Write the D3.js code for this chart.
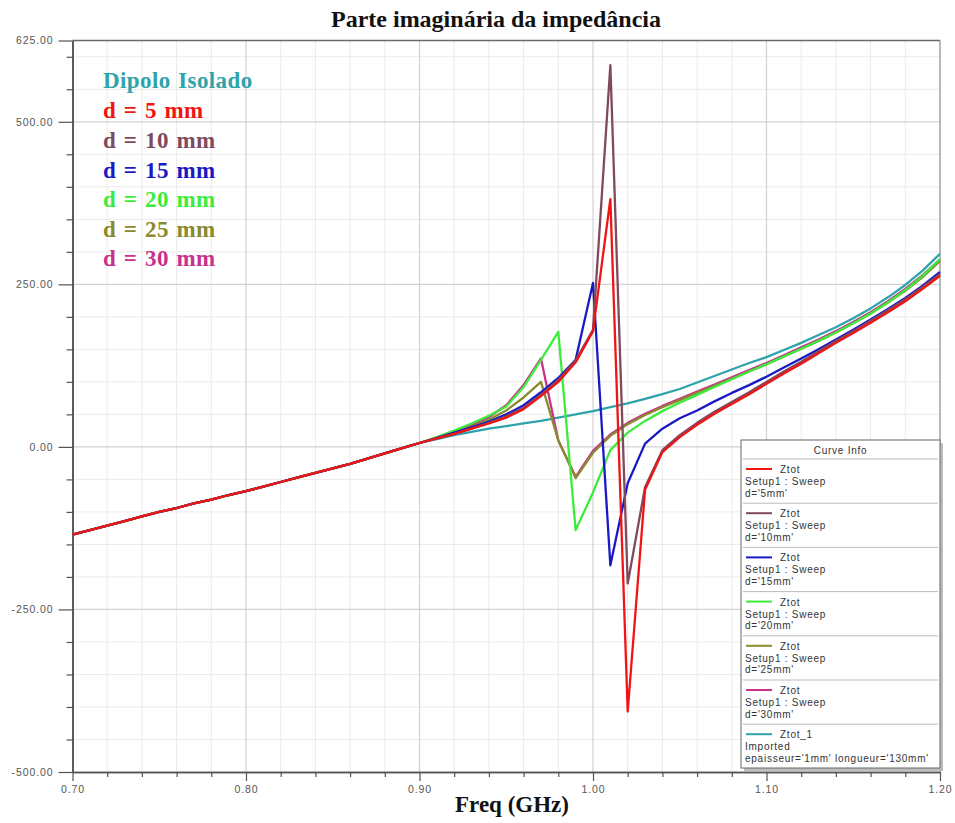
<!DOCTYPE html>
<html><head><meta charset="utf-8">
<script src="https://cdn.jsdelivr.net/npm/d3@7"></script>
<style>body{margin:0;background:#fff} svg{display:block}</style>
</head><body><svg id="c" width="955" height="823"></svg>
<script>
// ---- data ----
const freq = [0.70,0.71,0.72,0.73,0.74,0.75,0.76,0.77,0.78,0.79,0.80,0.81,0.82,0.83,0.84,0.85,0.86,0.87,0.88,0.89,
  0.90,0.91,0.92,0.93,0.94,0.95,0.96,0.97,0.98,0.99,1.00,1.01,1.02,1.03,1.04,1.05,1.06,1.07,1.08,1.09,1.10,
  1.11,1.12,1.13,1.14,1.15,1.16,1.17,1.18,1.19,1.20];
const lowBand = [-135,-128,-121,-114,-107,-100,-94,-87,-81,-74,-68,-61,-54,-47,-40,-33,-26,-18,-10,-2];
const dipoloIsolado = lowBand.concat([6,12,18,23,28,32,36,40,45,50,55,61,67,74,81,89,99,109,119,129,138,149,160,172,184,198,213,230,249,271,297]);
const d5mm  = lowBand.concat([6,13,20,28,36,45,58,78,100,130,178,381,-407,-66,-8,15,34,51,66,81,97,113,128,144,160,175,191,207,224,243,263]);
const d10mm = lowBand.concat([6,13,20,28,37,47,60,80,103,133,180,587,-210,-62,-5,18,37,54,69,84,100,116,131,147,163,178,194,210,227,246,266]);
const d15mm = lowBand.concat([6,14,22,30,39,50,64,84,106,134,252,-182,-56,5,28,44,56,70,83,95,108,122,136,150,165,180,196,212,229,248,269]);
const d20mm = lowBand.concat([6,15,25,36,48,62,92,134,177,-128,-70,-5,22,40,55,68,80,92,104,116,127,139,151,163,176,190,205,222,241,263,289]);
const d25mm = lowBand.concat([6,14,22,31,42,56,76,100,10,-48,-9,17,35,49,61,72,83,94,105,116,127,139,151,163,176,190,205,222,240,261,286]);
const d30mm = lowBand.concat([6,14,23,33,46,64,95,136,10,-46,-6,19,37,51,63,74,85,96,107,118,129,141,153,165,178,192,207,224,243,264,288]);

const seriesNames = ["Dipolo Isolado","d = 5 mm","d = 10 mm","d = 15 mm","d = 20 mm","d = 25 mm","d = 30 mm"];
const seriesColors = ["#2ea3ab","#f01414","#7f4a5e","#1a1ac4","#3cec3c","#8a8a2e","#c8318c"];
const seriesValues = [dipoloIsolado,d5mm,d10mm,d15mm,d20mm,d25mm,d30mm];
const drawOrder = [0,6,5,4,3,2,1];

const xMajorTicks = [0.70,0.80,0.90,1.00,1.10,1.20];
const xTickLabels = ["0.70","0.80","0.90","1.00","1.10","1.20"];
const xMinorTicks = [0.72,0.74,0.76,0.78,0.82,0.84,0.86,0.88,0.92,0.94,0.96,0.98,1.02,1.04,1.06,1.08,1.12,1.14,1.16,1.18];
const yMajorTicks = [625,500,250,0,-250,-500];
const yTickLabels = ["625.00","500.00","250.00","0.00","-250.00","-500.00"];
const yMinorTicks = [600,550,450,400,350,300,200,150,100,50,-50,-100,-150,-200,-300,-350,-400,-450];

const infoLines = [
  ["Ztot","Setup1 : Sweep","d='5mm'"],
  ["Ztot","Setup1 : Sweep","d='10mm'"],
  ["Ztot","Setup1 : Sweep","d='15mm'"],
  ["Ztot","Setup1 : Sweep","d='20mm'"],
  ["Ztot","Setup1 : Sweep","d='25mm'"],
  ["Ztot","Setup1 : Sweep","d='30mm'"],
  ["Ztot_1","Imported","epaisseur='1mm' longueur='130mm'"]
];
const infoColors = ["#f01414","#7f4a5e","#1a1ac4","#3cec3c","#8a8a2e","#c8318c","#2ea3ab"];

// ---- chart ----
const svg = d3.select("#c");
const L=72.5, R=940, T=40.5, B=772;
const x = d3.scaleLinear().domain([0.70,1.20]).range([L,R]);
const y = d3.scaleLinear().domain([-500,625]).range([B,T]);

// grid
const g = svg.append("g");
g.selectAll(".vminor").data(xMinorTicks).join("line")
  .attr("x1",d=>x(d)).attr("x2",d=>x(d)).attr("y1",T).attr("y2",B)
  .attr("stroke","#ebebeb").attr("stroke-width",1);
g.selectAll(".hminor").data(yMinorTicks).join("line")
  .attr("y1",d=>y(d)).attr("y2",d=>y(d)).attr("x1",L).attr("x2",R)
  .attr("stroke","#ebebeb").attr("stroke-width",1);
g.selectAll(".vmajor").data(xMajorTicks.slice(1,-1)).join("line")
  .attr("x1",d=>x(d)).attr("x2",d=>x(d)).attr("y1",T).attr("y2",B)
  .attr("stroke","#d2d2d2").attr("stroke-width",1.2);
g.selectAll(".hmajor").data(yMajorTicks.slice(1,-1)).join("line")
  .attr("y1",d=>y(d)).attr("y2",d=>y(d)).attr("x1",L).attr("x2",R)
  .attr("stroke","#d2d2d2").attr("stroke-width",1.2);

// frame
svg.append("line").attr("x1",L).attr("x2",R).attr("y1",T).attr("y2",T).attr("stroke","#6a6a6a").attr("stroke-width",1.5);
svg.append("line").attr("x1",R).attr("x2",R).attr("y1",T).attr("y2",B).attr("stroke","#8a8a8a").attr("stroke-width",1.2);

// axes
const fmtX = d => xTickLabels[xMajorTicks.indexOf(d)];
const fmtY = d => yTickLabels[yMajorTicks.indexOf(d)];
const axStyle = sel => { sel.select(".domain").attr("stroke","#555").attr("stroke-width",1.6);
  sel.selectAll(".tick line").attr("stroke","#555").attr("stroke-width",1.2);
  sel.selectAll("text").attr("fill","#555").style("font-family","'Liberation Sans',Arial,sans-serif")
    .style("font-size","10.5px").style("letter-spacing","0.9px"); };

svg.append("g").attr("transform",`translate(${L},0)`)
  .call(d3.axisLeft(y).tickValues(yMinorTicks).tickSize(6).tickFormat("").tickSizeOuter(0)).call(axStyle);
svg.append("g").attr("transform",`translate(${L},0)`)
  .call(d3.axisLeft(y).tickValues(yMajorTicks).tickSize(14).tickPadding(5).tickFormat(fmtY).tickSizeOuter(0)).call(axStyle);
svg.append("g").attr("transform",`translate(0,${B})`)
  .call(d3.axisBottom(x).tickValues(xMinorTicks).tickSize(5).tickFormat("").tickSizeOuter(0)).call(axStyle);
svg.append("g").attr("transform",`translate(0,${B})`)
  .call(d3.axisBottom(x).tickValues(xMajorTicks).tickSize(9).tickPadding(5).tickFormat(fmtX).tickSizeOuter(0)).call(axStyle);

// curves
const line = d3.line().x((d,i)=>x(freq[i])).y(d=>y(d));
svg.append("g").selectAll("path").data(drawOrder).join("path")
  .attr("d",i=>line(seriesValues[i]))
  .attr("fill","none").attr("stroke",i=>seriesColors[i]).attr("stroke-width",2.3)
  .attr("stroke-linejoin","round");

// title and axis label
svg.append("text").attr("x",496).attr("y",27).attr("text-anchor","middle")
  .style("font-family","'Liberation Serif','Times New Roman',serif").style("font-weight","bold").style("font-size","24px")
  .attr("fill","#111").text("Parte imaginária da impedância");
svg.append("text").attr("x",512).attr("y",812).attr("text-anchor","middle")
  .style("font-family","'Liberation Serif','Times New Roman',serif").style("font-weight","bold").style("font-size","23px")
  .attr("fill","#111").text("Freq (GHz)");

// in-plot legend
const legY = [88,118,148,178,207,237,266];
svg.append("g").selectAll("text").data(seriesNames).join("text")
  .attr("x",103).attr("y",(d,i)=>legY[i])
  .style("font-family","'Liberation Serif','Times New Roman',serif").style("font-weight","bold").style("font-size","23px")
  .style("word-spacing","1.5px").style("letter-spacing","0.4px")
  .attr("fill",(d,i)=>seriesColors[i]).text(d=>d);

// Curve Info box
const bx=741, by=440, bw=199, bh=328;
const box = svg.append("g");
box.append("rect").attr("x",bx+3).attr("y",by+3).attr("width",bw).attr("height",bh).attr("fill","#bdbdbd");
box.append("rect").attr("x",bx).attr("y",by).attr("width",bw).attr("height",bh).attr("fill","#fff").attr("stroke","#666").attr("stroke-width",1);
const ft = "'Liberation Sans',Arial,sans-serif";
const boxText = sel => sel.style("font-family",ft).style("font-size","10px").style("letter-spacing","0.75px").attr("fill","#333");
box.append("text").attr("x",bx+bw/2).attr("y",by+14).attr("text-anchor","middle").call(boxText).text("Curve Info");
const entH = 44.2, ent0 = by+19;
infoLines.forEach((ln,i)=>{
  const top = ent0 + i*entH;
  box.append("line").attr("x1",bx+2).attr("x2",bx+bw-2).attr("y1",top).attr("y2",top).attr("stroke","#bbb");
  box.append("line").attr("x1",bx+5).attr("x2",bx+31).attr("y1",top+10).attr("y2",top+10)
    .attr("stroke",infoColors[i]).attr("stroke-width",2);
  box.append("text").attr("x",bx+39).attr("y",top+14).call(boxText).text(ln[0]);
  box.append("text").attr("x",bx+4).attr("y",top+26).call(boxText).text(ln[1]);
  box.append("text").attr("x",bx+4).attr("y",top+37.5).call(boxText).text(ln[2]);
});
</script></body></html>
